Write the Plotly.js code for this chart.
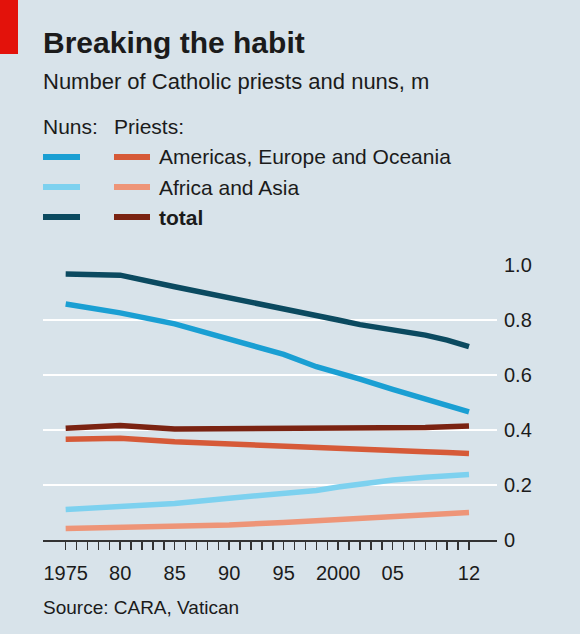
<!DOCTYPE html>
<html>
<head>
<meta charset="utf-8">
<script src="https://cdn.plot.ly/plotly-3.0.1.min.js"></script>
<style>
  html, body { margin: 0; padding: 0; background: #d8e3ea; }
  #chart { width: 580px; height: 634px; }
</style>
</head>
<body>
<div id="chart"></div>
<script>
// ---- data (millions) ----
const years = [1975, 1980, 1985, 1990, 1995, 1998, 2000, 2002, 2005, 2008, 2010, 2012];
const nunsAmericasEuropeOceania = [0.858, 0.826, 0.786, 0.733, 0.675, 0.630, 0.610, 0.585, 0.548, 0.515, 0.492, 0.466];
const nunsAfricaAsia            = [0.111, 0.122, 0.133, 0.152, 0.168, 0.180, 0.193, 0.204, 0.218, 0.228, 0.234, 0.238];
const nunsTotal                 = [0.967, 0.963, 0.921, 0.882, 0.842, 0.820, 0.800, 0.783, 0.765, 0.745, 0.727, 0.703];
const priestsAmericasEuropeOceania = [0.366, 0.370, 0.357, 0.350, 0.343, 0.339, 0.337, 0.333, 0.327, 0.321, 0.318, 0.315];
const priestsAfricaAsia            = [0.042, 0.045, 0.048, 0.055, 0.064, 0.070, 0.074, 0.078, 0.085, 0.091, 0.095, 0.100];
const priestsTotal                 = [0.406, 0.416, 0.404, 0.404, 0.404, 0.405, 0.405, 0.405, 0.406, 0.409, 0.412, 0.415];

const xTickVals = [1975, 1980, 1985, 1990, 1995, 2000, 2005, 2012];
const xTickText = ['1975', '80', '85', '90', '95', '2000', '05', '12'];
const xMinorTickVals = [1976, 1977, 1978, 1979, 1981, 1982, 1983, 1984, 1986, 1987, 1988, 1989,
                        1991, 1992, 1993, 1994, 1996, 1997, 1998, 1999, 2001, 2002, 2003, 2004,
                        2006, 2007, 2008, 2009, 2010, 2011];
const yTickVals = [0, 0.2, 0.4, 0.6, 0.8, 1.0];
const yTickText = ['0', '0.2', '0.4', '0.6', '0.8', '1.0'];

const legendLabels = ['Americas, Europe and Oceania', 'Africa and Asia', '<b>total</b>'];

// ---- styles ----
const C = {
  bg: '#d8e3ea',
  text: '#1b1b1b',
  nunsAEO: '#1a9fd3',
  nunsAA: '#7dd1ef',
  nunsTot: '#0b4a60',
  prAEO: '#d65a38',
  prAA: '#ee9578',
  prTot: '#7a2312',
  red: '#e3120b'
};
const FONT = 'Liberation Sans, Arial, sans-serif';
const LW = 5.5;

const W = 580, H = 634;
const M = { l: 43, r: 83, t: 265, b: 94 };
const PW = W - M.l - M.r, PH = H - M.t - M.b;
const px = v => (v - M.l) / PW;
const py = v => (H - M.b - v) / PH;

function line(y, color) {
  return { x: years, y: y, type: 'scatter', mode: 'lines',
           line: { color: color, width: LW }, hoverinfo: 'skip', showlegend: false };
}

const data = [
  line(priestsAfricaAsia, C.prAA),
  line(nunsAfricaAsia, C.nunsAA),
  line(priestsAmericasEuropeOceania, C.prAEO),
  line(priestsTotal, C.prTot),
  line(nunsAmericasEuropeOceania, C.nunsAEO),
  line(nunsTotal, C.nunsTot)
];

const ann = (x, y, text, size, extra) => Object.assign({
  xref: 'paper', yref: 'paper', x: px(x), y: py(y), text: text,
  showarrow: false, xanchor: 'left', yanchor: 'middle',
  font: { family: FONT, size: size, color: C.text }
}, extra || {});

const rowsY = [157, 187, 217];
const nunsCols = [C.nunsAEO, C.nunsAA, C.nunsTot];
const prCols = [C.prAEO, C.prAA, C.prTot];

const shapes = [
  { type: 'rect', xref: 'paper', yref: 'paper', x0: px(0), x1: px(18), y0: py(0), y1: py(54),
    fillcolor: C.red, line: { width: 0 } }
];
rowsY.forEach((ry, i) => {
  shapes.push({ type: 'line', xref: 'paper', yref: 'paper', x0: px(43), x1: px(80), y0: py(ry), y1: py(ry),
                line: { color: nunsCols[i], width: 6 } });
  shapes.push({ type: 'line', xref: 'paper', yref: 'paper', x0: px(114), x1: px(150), y0: py(ry), y1: py(ry),
                line: { color: prCols[i], width: 6 } });
});

const annotations = [
  ann(41, 43, '<b>Breaking the habit</b>', 30),
  ann(41, 82, 'Number of Catholic priests and nuns, m', 22),
  ann(41, 126, 'Nuns:', 21),
  ann(112, 126, 'Priests:', 21),
  ann(157, rowsY[0], legendLabels[0], 21),
  ann(157, rowsY[1], legendLabels[1], 21),
  ann(157, rowsY[2], legendLabels[2], 21),
  ann(41, 607, 'Source: CARA, Vatican', 19)
];

const layout = {
  width: W, height: H,
  margin: { l: M.l, r: M.r, t: M.t, b: M.b, pad: 0 },
  paper_bgcolor: C.bg, plot_bgcolor: C.bg,
  showlegend: false,
  font: { family: FONT, color: C.text },
  xaxis: {
    range: [1972.92, 2014.57],
    tickmode: 'array', tickvals: xTickVals, ticktext: xTickText,
    ticks: 'outside', ticklen: 8, tickwidth: 1.5, tickcolor: '#333',
    ticklabelstandoff: 6,
    minor: { tickmode: 'array', tickvals: xMinorTickVals, ticks: 'outside', ticklen: 8, tickwidth: 1.5, tickcolor: '#333', showgrid: false },
    showgrid: false, zeroline: false,
    showline: true, linecolor: '#333', linewidth: 1.5,
    tickfont: { family: FONT, size: 20, color: C.text },
    fixedrange: true
  },
  yaxis: {
    range: [0, 1.0],
    side: 'right',
    tickmode: 'array', tickvals: yTickVals, ticktext: yTickText,
    ticks: '', ticklabelstandoff: 6,
    showgrid: true, gridcolor: '#ffffff', gridwidth: 2,
    zeroline: false, showline: false,
    tickfont: { family: FONT, size: 20, color: C.text },
    fixedrange: true
  },
  shapes: shapes,
  annotations: annotations
};

Plotly.newPlot('chart', data, layout, { staticPlot: true, displayModeBar: false });
</script>
</body>
</html>
